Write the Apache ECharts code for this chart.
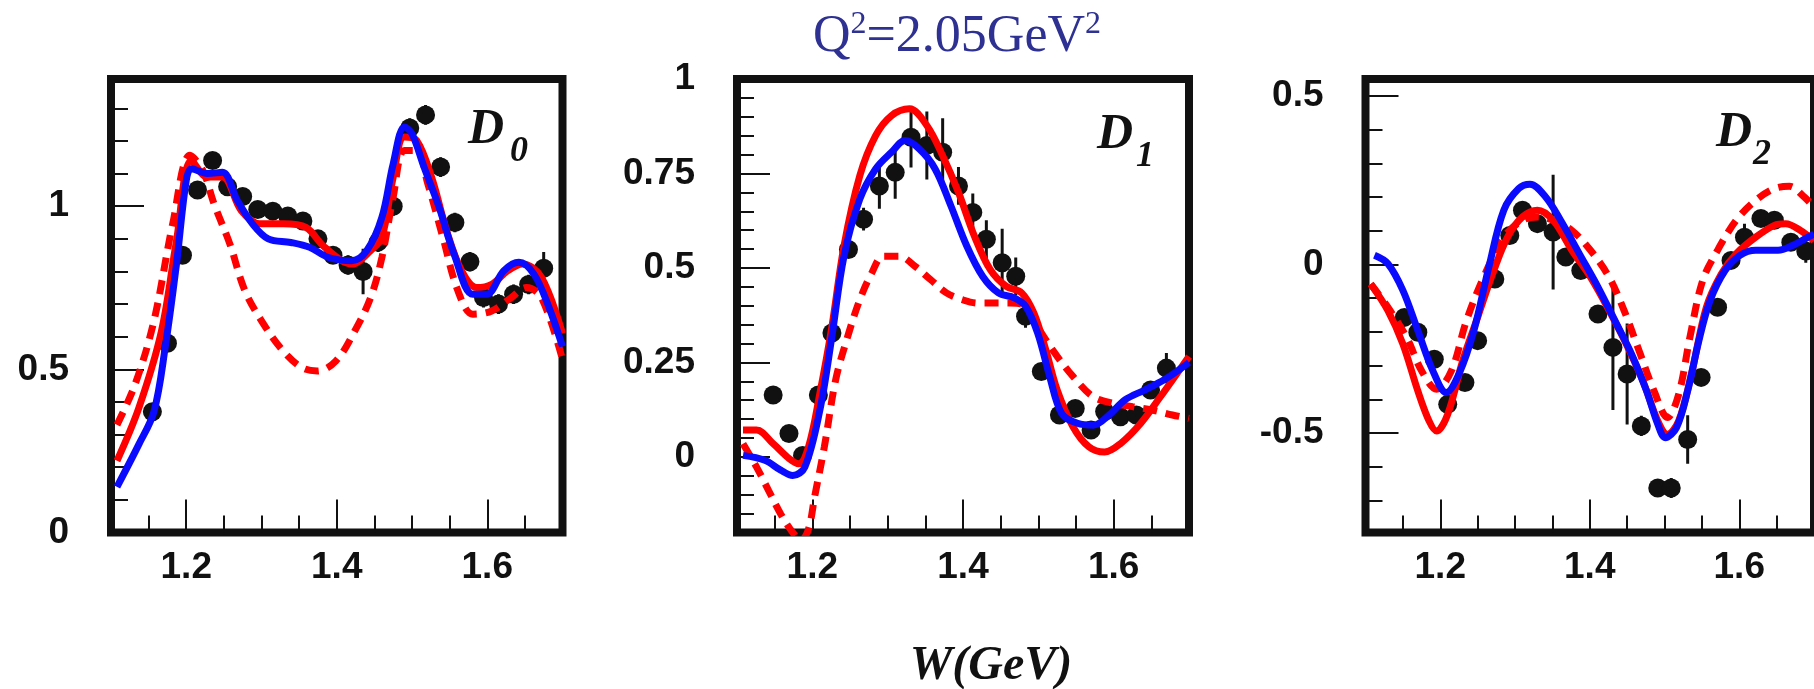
<!DOCTYPE html>
<html>
<head>
<meta charset="utf-8">
<script src="https://cdn.jsdelivr.net/npm/echarts@6/dist/echarts.min.js"></script>
<style>
  html, body { margin: 0; padding: 0; background: #fff; }
  #chart { width: 1814px; height: 689px; }
</style>
</head>
<body>
<div id="chart"></div>
<script>
// W (GeV) ticks shared by all panels
const wMajor = [1.2, 1.4, 1.6]
const wMinor = [1.15, 1.2, 1.25, 1.3, 1.35, 1.4, 1.45, 1.5, 1.55, 1.6, 1.65]

// y ticks per panel
const d0Major = [0, 0.5, 1]
const d0Minor = [0.1, 0.2, 0.3, 0.4, 0.6, 0.7, 0.8, 0.9, 1.1, 1.2, 1.3]
const d1Major = [0, 0.25, 0.5, 0.75, 1]
const d1Minor = [-0.15, -0.1, -0.05, 0.05, 0.1, 0.15, 0.2, 0.3, 0.35, 0.4, 0.45, 0.55, 0.6, 0.65, 0.7, 0.8, 0.85, 0.9, 0.95]
const d2Major = [-0.5, 0, 0.5]
const d2Minor = [-0.7, -0.6, -0.4, -0.3, -0.2, -0.1, 0.1, 0.2, 0.3, 0.4]

// data points: [W, value, error]
const d0Data = [[1.155,0.37,0.02],[1.175,0.58,0.02],[1.195,0.85,0.02],[1.215,1.05,0.02],[1.235,1.14,0.02],[1.255,1.06,0.02],[1.275,1.03,0.02],[1.295,0.99,0.02],[1.315,0.985,0.02],[1.335,0.97,0.02],[1.355,0.955,0.02],[1.375,0.9,0.02],[1.395,0.85,0.02],[1.415,0.82,0.03],[1.435,0.8,0.07],[1.455,0.89,0.03],[1.475,1.0,0.03],[1.497,1.24,0.03],[1.518,1.28,0.03],[1.538,1.12,0.03],[1.557,0.95,0.03],[1.577,0.83,0.03],[1.595,0.72,0.03],[1.615,0.7,0.03],[1.635,0.73,0.03],[1.655,0.76,0.03],[1.675,0.81,0.05]]
const d1Data = [[1.148,0.164,0.01],[1.169,0.062,0.01],[1.187,0.004,0.01],[1.208,0.164,0.015],[1.226,0.328,0.02],[1.248,0.549,0.02],[1.268,0.629,0.03],[1.289,0.717,0.06],[1.31,0.753,0.07],[1.331,0.846,0.08],[1.352,0.824,0.09],[1.373,0.806,0.09],[1.394,0.717,0.05],[1.413,0.647,0.05],[1.431,0.576,0.05],[1.452,0.514,0.09],[1.47,0.478,0.05],[1.483,0.372,0.03],[1.504,0.226,0.02],[1.528,0.111,0.02],[1.549,0.128,0.02],[1.57,0.071,0.02],[1.588,0.12,0.02],[1.609,0.106,0.02],[1.63,0.111,0.02],[1.649,0.177,0.02],[1.67,0.235,0.04]]
const d2Data = [[1.152,-0.157,0.02],[1.17,-0.201,0.02],[1.192,-0.281,0.02],[1.21,-0.415,0.03],[1.233,-0.35,0.02],[1.25,-0.226,0.02],[1.273,-0.043,0.02],[1.293,0.086,0.02],[1.31,0.161,0.02],[1.33,0.121,0.02],[1.351,0.096,0.17],[1.368,0.022,0.02],[1.388,-0.018,0.02],[1.411,-0.147,0.02],[1.431,-0.246,0.186],[1.45,-0.325,0.15],[1.469,-0.479,0.03],[1.491,-0.663,0.02],[1.509,-0.663,0.03],[1.531,-0.519,0.072],[1.549,-0.335,0.02],[1.571,-0.127,0.02],[1.589,0.012,0.02],[1.607,0.081,0.04],[1.629,0.136,0.02],[1.647,0.131,0.02],[1.669,0.066,0.02],[1.689,0.04,0.035]]

// model curves: [W, value]
const d0Blue = [[1.108,0.14],[1.137,0.27],[1.157,0.37],[1.172,0.567],[1.187,0.823],[1.2,1.079],[1.207,1.115],[1.228,1.1],[1.248,1.104],[1.268,1.017],[1.288,0.946],[1.309,0.9],[1.339,0.889],[1.364,0.874],[1.389,0.843],[1.42,0.833],[1.44,0.864],[1.46,0.966],[1.475,1.13],[1.49,1.243],[1.5,1.222],[1.516,1.12],[1.536,0.997],[1.556,0.853],[1.581,0.73],[1.599,0.73],[1.622,0.802],[1.642,0.828],[1.662,0.792],[1.682,0.69],[1.7,0.57]]
const d0Red = [[1.108,0.22],[1.137,0.382],[1.167,0.617],[1.187,0.894],[1.207,1.14],[1.228,1.09],[1.248,1.09],[1.273,0.987],[1.298,0.946],[1.329,0.946],[1.359,0.935],[1.384,0.874],[1.42,0.823],[1.445,0.864],[1.46,0.905],[1.475,1.089],[1.49,1.212],[1.506,1.202],[1.526,1.089],[1.546,0.925],[1.566,0.802],[1.586,0.751],[1.606,0.761],[1.627,0.802],[1.647,0.823],[1.672,0.782],[1.7,0.61]]
const d0Dash = [[1.108,0.33],[1.132,0.454],[1.157,0.648],[1.182,0.946],[1.205,1.156],[1.222,1.11],[1.237,1.007],[1.258,0.884],[1.278,0.741],[1.303,0.638],[1.329,0.556],[1.354,0.505],[1.374,0.495],[1.399,0.526],[1.424,0.618],[1.445,0.72],[1.46,0.843],[1.475,1.028],[1.49,1.171],[1.506,1.171],[1.521,1.069],[1.541,0.905],[1.561,0.741],[1.581,0.669],[1.606,0.679],[1.632,0.72],[1.652,0.751],[1.672,0.72],[1.7,0.53]]
const d1Blue = [[1.108,0.004],[1.137,-0.009],[1.158,-0.035],[1.174,-0.049],[1.19,-0.027],[1.21,0.124],[1.226,0.319],[1.242,0.531],[1.263,0.682],[1.284,0.762],[1.305,0.806],[1.323,0.837],[1.342,0.815],[1.363,0.762],[1.384,0.664],[1.405,0.558],[1.426,0.478],[1.447,0.434],[1.468,0.421],[1.483,0.399],[1.499,0.328],[1.515,0.213],[1.531,0.115],[1.552,0.089],[1.573,0.084],[1.594,0.111],[1.615,0.151],[1.641,0.177],[1.667,0.204],[1.7,0.25]]
const d1Red = [[1.108,0.071],[1.126,0.071],[1.148,0.035],[1.169,-0.004],[1.182,-0.018],[1.195,0.027],[1.21,0.168],[1.226,0.345],[1.242,0.558],[1.263,0.744],[1.284,0.85],[1.305,0.903],[1.329,0.921],[1.352,0.877],[1.373,0.797],[1.394,0.7],[1.415,0.585],[1.436,0.496],[1.457,0.452],[1.478,0.434],[1.494,0.381],[1.51,0.283],[1.525,0.177],[1.546,0.08],[1.567,0.027],[1.588,0.013],[1.609,0.035],[1.636,0.089],[1.662,0.159],[1.7,0.266]]
const d1Dash = [[1.108,0.035],[1.126,-0.027],[1.142,-0.089],[1.158,-0.151],[1.174,-0.2],[1.185,-0.22],[1.195,-0.19],[1.203,-0.106],[1.216,0.027],[1.231,0.204],[1.247,0.319],[1.263,0.416],[1.279,0.487],[1.294,0.531],[1.315,0.531],[1.336,0.505],[1.357,0.469],[1.378,0.434],[1.399,0.416],[1.42,0.407],[1.441,0.407],[1.462,0.407],[1.483,0.399],[1.504,0.328],[1.525,0.266],[1.546,0.213],[1.573,0.159],[1.599,0.142],[1.625,0.133],[1.651,0.124],[1.678,0.111],[1.7,0.102]]
const d2Blue = [[1.112,0.027],[1.13,0.002],[1.15,-0.077],[1.17,-0.196],[1.19,-0.315],[1.208,-0.38],[1.225,-0.325],[1.245,-0.196],[1.265,-0.008],[1.285,0.161],[1.305,0.225],[1.32,0.238],[1.341,0.2],[1.361,0.131],[1.386,0.032],[1.411,-0.067],[1.436,-0.177],[1.456,-0.266],[1.476,-0.375],[1.491,-0.474],[1.501,-0.514],[1.516,-0.484],[1.531,-0.375],[1.546,-0.226],[1.561,-0.107],[1.581,-0.018],[1.601,0.027],[1.622,0.042],[1.652,0.042],[1.672,0.057],[1.692,0.081],[1.7,0.09]]
const d2Red = [[1.107,-0.058],[1.13,-0.137],[1.15,-0.236],[1.17,-0.375],[1.185,-0.464],[1.195,-0.494],[1.21,-0.444],[1.23,-0.286],[1.25,-0.157],[1.27,-0.028],[1.29,0.081],[1.31,0.141],[1.33,0.161],[1.351,0.131],[1.376,0.042],[1.401,-0.038],[1.426,-0.137],[1.451,-0.246],[1.471,-0.345],[1.491,-0.464],[1.504,-0.504],[1.519,-0.464],[1.536,-0.325],[1.556,-0.127],[1.576,-0.028],[1.596,0.032],[1.622,0.081],[1.647,0.116],[1.662,0.121],[1.682,0.101],[1.7,0.07]]
const d2Dash = [[1.107,-0.058],[1.13,-0.127],[1.155,-0.216],[1.175,-0.315],[1.195,-0.37],[1.215,-0.315],[1.235,-0.167],[1.26,-0.028],[1.285,0.081],[1.31,0.131],[1.33,0.141],[1.351,0.131],[1.376,0.101],[1.401,0.042],[1.426,-0.038],[1.446,-0.137],[1.466,-0.256],[1.486,-0.375],[1.504,-0.454],[1.519,-0.385],[1.534,-0.216],[1.551,-0.048],[1.571,0.042],[1.596,0.131],[1.622,0.19],[1.647,0.225],[1.667,0.232],[1.687,0.2],[1.7,0.17]]

const panels = [
  { box: [111, 451.5], y: [0, 1.39], major: d0Major, minor: d0Minor, data: d0Data, blue: d0Blue, red: d0Red, dash: d0Dash },
  { box: [737, 452], y: [-0.2, 1.0], major: d1Major, minor: d1Minor, data: d1Data, blue: d1Blue, red: d1Red, dash: d1Dash },
  { box: [1365.5, 452.5], y: [-0.795, 0.55], major: d2Major, minor: d2Minor, data: d2Data, blue: d2Blue, red: d2Red, dash: d2Dash }
]

const INK = '#111'
const RED = '#ff0000'
const BLUE = '#0a0aff'
const TITLE = '#2e3192'
const sans = 'Liberation Sans, Arial, sans-serif'
const serif = 'Liberation Serif, Times New Roman, serif'

const grid = [], xAxis = [], yAxis = [], series = []

panels.forEach((p, i) => {
  grid.push({
    left: p.box[0], top: 79, width: p.box[1], height: 453.5,
    show: true, borderWidth: 8, borderColor: INK, backgroundColor: 'transparent'
  })
  const tick = (vals, len) => ({ inside: true, length: len, customValues: vals, lineStyle: { color: INK, width: 2 } })
  const xBase = { gridIndex: i, type: 'value', min: 1.1, max: 1.7, position: 'bottom', splitLine: { show: false }, axisLine: { show: false, onZero: false } }
  xAxis.push({ ...xBase, axisTick: tick(wMajor, 33),
    axisLabel: { customValues: wMajor, margin: 17, fontSize: 37, fontWeight: 'bold', fontFamily: sans, color: INK, formatter: v => v.toFixed(1) } })
  xAxis.push({ ...xBase, axisTick: tick(wMinor, 17), axisLabel: { show: false } })
  const yBase = { gridIndex: i, type: 'value', min: p.y[0], max: p.y[1], position: 'left', splitLine: { show: false }, axisLine: { show: false, onZero: false } }
  yAxis.push({ ...yBase, axisTick: tick(p.major, 33),
    axisLabel: { customValues: p.major, margin: 42, fontSize: 37, fontWeight: 'bold', fontFamily: sans, color: INK } })
  yAxis.push({ ...yBase, axisTick: tick(p.minor, 17), axisLabel: { show: false } })

  const xi = i * 2, yi = i * 2
  series.push({
    type: 'custom', xAxisIndex: xi, yAxisIndex: yi, clip: true, z: 2,
    data: p.data, encode: { x: 0, y: 1 },
    renderItem: (params, api) => {
      const w = api.value(0), v = api.value(1), e = api.value(2)
      const a = api.coord([w, v + e]), b = api.coord([w, v - e])
      return { type: 'line', shape: { x1: a[0], y1: a[1], x2: b[0], y2: b[1] }, style: { stroke: INK, lineWidth: 3 } }
    }
  })
  series.push({
    type: 'scatter', xAxisIndex: xi, yAxisIndex: yi, z: 3,
    data: p.data.map(d => [d[0], d[1]]), symbol: 'circle', symbolSize: 19,
    itemStyle: { color: INK, opacity: 1 }
  })
  const line = (data, color, type, z) => ({
    type: 'line', xAxisIndex: xi, yAxisIndex: yi, z, data, smooth: 0.35,
    showSymbol: false, clip: true,
    lineStyle: { color, width: 7, type, cap: 'butt' }
  })
  series.push(line(p.dash, RED, [14, 9], 4))
  series.push(line(p.red, RED, 'solid', 5))
  series.push(line(p.blue, BLUE, 'solid', 6))
})

const dLabel = (x, y, main, sub, sx, sy) => [
  { type: 'text', x, y, style: { text: main, font: 'italic bold 50px ' + serif, fill: INK, textVerticalAlign: 'bottom' } },
  { type: 'text', x: sx, y: sy, style: { text: sub, font: 'italic bold 36px ' + serif, fill: INK, textVerticalAlign: 'bottom' } }
]

const graphic = [
  ...dLabel(468, 155, 'D', '0', 510, 170),
  ...dLabel(1097, 160, 'D', '1', 1136, 175),
  ...dLabel(1716, 158, 'D', '2', 1753, 173),
  {
    type: 'text', x: 957, y: 36,
    style: {
      text: '{m|Q}{s|2}{m|=2.05GeV}{s|2}', align: 'center', verticalAlign: 'middle',
      rich: {
        m: { fontFamily: serif, fontSize: 52, fill: TITLE, color: TITLE, lineHeight: 54, verticalAlign: 'bottom' },
        s: { fontFamily: serif, fontSize: 32, fill: TITLE, color: TITLE, lineHeight: 54, verticalAlign: 'top' }
      }
    }
  },
  {
    type: 'text', x: 991, y: 667,
    style: { text: 'W(GeV)', font: 'italic bold 48px ' + serif, fill: INK, textAlign: 'center', textVerticalAlign: 'middle' }
  }
]

const chart = echarts.init(document.getElementById('chart'), null, { renderer: 'canvas' })
chart.setOption({ animation: false, backgroundColor: '#fff', grid, xAxis, yAxis, series, graphic })
</script>
</body>
</html>
